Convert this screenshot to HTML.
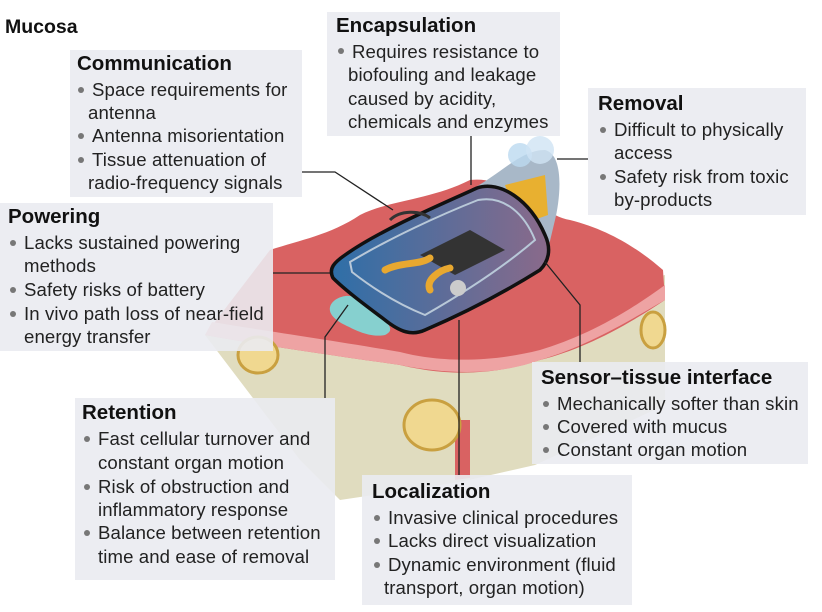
<!DOCTYPE html>
<html><head><meta charset="utf-8"><style>
body{margin:0;width:822px;height:612px;background:#fff;position:relative;overflow:hidden;font-family:"Liberation Sans",sans-serif;color:#222}
.b{position:absolute;background:rgba(234,235,241,0.9)}
.t{position:absolute;font-size:18.6px;line-height:23.5px;white-space:nowrap;letter-spacing:0.1px}
.h{position:absolute;font-size:20.5px;font-weight:bold;white-space:nowrap;color:#111}
.d{position:absolute;width:6px;height:6px;border-radius:50%;background:#777}
</style></head><body>
<svg width="822" height="612" style="position:absolute;left:0;top:0">
<defs><linearGradient id="g" x1="0" y1="0" x2="1" y2="0"><stop offset="0" stop-color="#2e6fa8"/><stop offset="1" stop-color="#8a6a8a"/></linearGradient></defs>
<polygon points="205,335 300,460 340,500 460,482 535,465 665,405 665,275 560,300 420,350" fill="#e0dcbf"/>
<path d="M455,420 L470,420 L470,478 L455,480 Z" fill="#d96262"/>
<path d="M205,335 L270,250 C300,240 330,235 360,215 C390,200 430,200 470,180 C510,175 540,215 570,220 C610,230 640,250 663,270 L665,300 C620,330 580,350 540,360 C480,380 430,372 400,365 C330,355 260,345 205,335Z" fill="#d96262"/>
<path d="M205,335 C260,345 330,355 400,365 C450,375 500,375 540,360 C590,345 630,320 665,300 L665,285 C620,318 580,338 540,350 C480,365 430,360 400,352 C330,340 260,330 212,322Z" fill="#eea3a3"/>
<ellipse cx="258" cy="355" rx="20" ry="18" fill="#f0d890" stroke="#c9a040" stroke-width="3"/>
<ellipse cx="432" cy="425" rx="28" ry="25" fill="#f0d890" stroke="#c9a040" stroke-width="3"/>
<ellipse cx="653" cy="330" rx="12" ry="18" fill="#f0d890" stroke="#c9a040" stroke-width="3"/>
<path d="M335,300 C350,290 365,300 375,310 C390,325 395,330 385,335 C370,338 355,330 345,325 C330,318 325,308 335,300Z" fill="#86d0cf"/>
<path d="M470,190 C500,175 520,150 545,150 C565,155 560,200 555,220 L545,262 L505,230 Z" fill="#a8b8c8"/>
<path d="M505,185 L545,175 L548,215 L520,225 Z" fill="#e8b030"/>
<circle cx="520" cy="155" r="12" fill="#bcdaf0" opacity="0.8"/><circle cx="540" cy="150" r="14" fill="#cfe4f4" opacity="0.8"/>
<path d="M345,255 C380,230 440,205 477,188 C500,180 530,200 545,235 C552,250 548,262 540,270 C500,295 460,315 425,330 C412,336 400,332 385,320 C365,305 345,290 333,278 C328,268 335,262 345,255Z" fill="url(#g)" stroke="#111" stroke-width="3.5"/>
<path d="M350,262 C390,238 440,215 478,200 C505,195 525,215 535,240 C500,270 460,295 425,315 C400,305 375,290 352,272Z" fill="none" stroke="#b8c8d8" stroke-width="2"/>
<polygon points="420,255 470,230 505,250 455,275" fill="#333"/>
<circle cx="458" cy="288" r="8" fill="#ccc"/>
<path d="M385,270 C400,262 420,265 430,258 M430,290 C425,280 440,270 450,268" stroke="#e8a830" stroke-width="7" fill="none" stroke-linecap="round"/>
<path d="M390,220 C400,210 420,210 430,218" stroke="#333" stroke-width="3" fill="none"/>
<g stroke="#222" stroke-width="1.3" fill="none">
<polyline points="302,172 335,172 393,210"/>
<line x1="471" y1="136" x2="471" y2="185"/>
<line x1="557" y1="159" x2="588" y2="159"/>
<line x1="273" y1="273" x2="330" y2="273"/>
<polyline points="545,262 580,305 580,362"/>
<polyline points="325,398 325,337 348,305"/>
<line x1="459" y1="475" x2="459" y2="320"/>
</g>
</svg>
<div style="position:absolute;left:5px;top:16px;font-size:19.5px;font-weight:bold;color:#111">Mucosa</div>

<div class="b" style="left:70px;top:50px;width:232px;height:147px"></div>
<div class="h" style="left:77px;top:52px">Communication</div>
<div class="d" style="left:78px;top:87px"></div><div class="t" style="left:92px;top:78px">Space requirements for</div>
<div class="t" style="left:88px;top:101px">antenna</div>
<div class="d" style="left:78px;top:133px"></div><div class="t" style="left:92px;top:124px">Antenna misorientation</div>
<div class="d" style="left:78px;top:157px"></div><div class="t" style="left:92px;top:148px">Tissue attenuation of</div>
<div class="t" style="left:88px;top:171px">radio-frequency signals</div>

<div class="b" style="left:327px;top:12px;width:233px;height:124px"></div>
<div class="h" style="left:336px;top:14px">Encapsulation</div>
<div class="d" style="left:338px;top:48px"></div><div class="t" style="left:352px;top:40px">Requires resistance to</div>
<div class="t" style="left:348px;top:63px">biofouling and leakage</div>
<div class="t" style="left:348px;top:87px">caused by acidity,</div>
<div class="t" style="left:348px;top:110px">chemicals and enzymes</div>

<div class="b" style="left:588px;top:88px;width:218px;height:127px"></div>
<div class="h" style="left:598px;top:92px">Removal</div>
<div class="d" style="left:600px;top:127px"></div><div class="t" style="left:614px;top:118px">Difficult to physically</div>
<div class="t" style="left:614px;top:141px">access</div>
<div class="d" style="left:600px;top:174px"></div><div class="t" style="left:614px;top:165px">Safety risk from toxic</div>
<div class="t" style="left:614px;top:188px">by-products</div>

<div class="b" style="left:0;top:203px;width:273px;height:148px"></div>
<div class="h" style="left:8px;top:205px">Powering</div>
<div class="d" style="left:10px;top:240px"></div><div class="t" style="left:24px;top:231px">Lacks sustained powering</div>
<div class="t" style="left:24px;top:254px">methods</div>
<div class="d" style="left:10px;top:287px"></div><div class="t" style="left:24px;top:278px">Safety risks of battery</div>
<div class="d" style="left:10px;top:311px"></div><div class="t" style="left:24px;top:302px">In vivo path loss of near-field</div>
<div class="t" style="left:24px;top:325px">energy transfer</div>

<div class="b" style="left:532px;top:362px;width:276px;height:102px"></div>
<div class="h" style="left:541px;top:366px">Sensor–tissue interface</div>
<div class="d" style="left:543px;top:401px"></div><div class="t" style="left:557px;top:392px">Mechanically softer than skin</div>
<div class="d" style="left:543px;top:424px"></div><div class="t" style="left:557px;top:415px">Covered with mucus</div>
<div class="d" style="left:543px;top:447px"></div><div class="t" style="left:557px;top:438px">Constant organ motion</div>

<div class="b" style="left:75px;top:398px;width:260px;height:182px"></div>
<div class="h" style="left:82px;top:401px">Retention</div>
<div class="d" style="left:84px;top:436px"></div><div class="t" style="left:98px;top:427px">Fast cellular turnover and</div>
<div class="t" style="left:98px;top:451px">constant organ motion</div>
<div class="d" style="left:84px;top:484px"></div><div class="t" style="left:98px;top:475px">Risk of obstruction and</div>
<div class="t" style="left:98px;top:498px">inflammatory response</div>
<div class="d" style="left:84px;top:530px"></div><div class="t" style="left:98px;top:521px">Balance between retention</div>
<div class="t" style="left:98px;top:545px">time and ease of removal</div>

<div class="b" style="left:362px;top:475px;width:270px;height:130px"></div>
<div class="h" style="left:372px;top:480px">Localization</div>
<div class="d" style="left:374px;top:515px"></div><div class="t" style="left:388px;top:506px">Invasive clinical procedures</div>
<div class="d" style="left:374px;top:538px"></div><div class="t" style="left:388px;top:529px">Lacks direct visualization</div>
<div class="d" style="left:374px;top:562px"></div><div class="t" style="left:388px;top:553px">Dynamic environment (fluid</div>
<div class="t" style="left:384px;top:576px">transport, organ motion)</div>
</body></html>
